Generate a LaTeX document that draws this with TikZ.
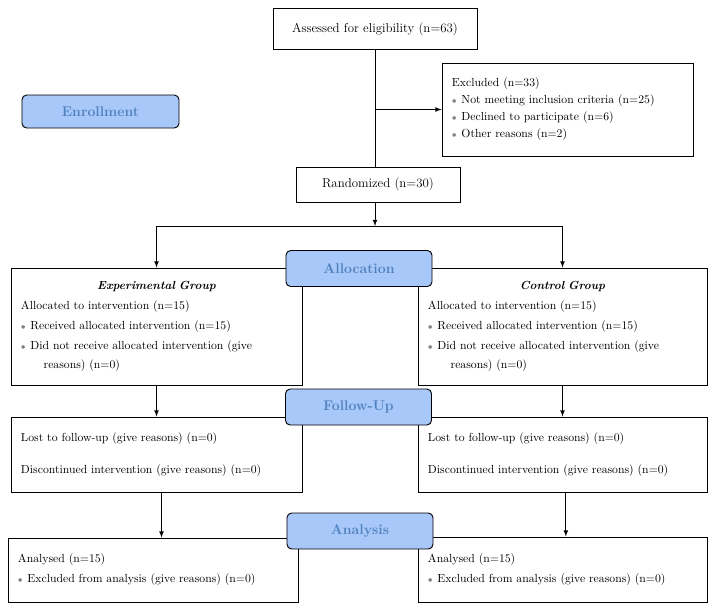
\documentclass[tikz,border=0pt]{standalone}
\usepackage{tikz}
\usetikzlibrary{calc,positioning}
\definecolor{lblfill}{RGB}{168,200,250}
\definecolor{lbltext}{RGB}{79,129,189}
\newcommand{\itemdot}{\textcolor{gray}{\scriptsize$\bullet$}\hspace{4pt}}

\begin{document}
\begin{tikzpicture}[x=0.03cm, y=-0.03cm, >=latex,
    every node/.style={font=\fontsize{10}{17}\selectfont},
    box/.style={draw, line width=0.8pt, inner xsep=0.3cm, inner ysep=0pt, align=left},
    stage/.style={draw, line width=0.8pt, rounded corners=4pt, fill=lblfill,
      text=lbltext, font=\bfseries\large, minimum height=1.08cm, minimum width=4.38cm}]
  \useasboundingbox (0,0) rectangle (717,611);

  % --- enrollment ---
  \node[box, align=center, minimum width=6.12cm, minimum height=1.23cm,
    font=\fontsize{11}{13}\selectfont] (assess) at (375,29)
    {Assessed for eligibility (n=63)};
  \node[box, text width=6.93cm, minimum height=2.79cm, font=\fontsize{10}{14.5}\selectfont]
    (excl) at (567.5,109.5)
    {Excluded (n=33)\\
     \itemdot Not meeting inclusion criteria (n=25)\\
     \itemdot Declined to participate (n=6)\\
     \itemdot Other reasons (n=2)};
  \node[box, align=center, minimum width=4.92cm, minimum height=1.05cm,
    font=\fontsize{11}{13}\selectfont] (random) at (378,184.5)
    {Randomized (n=30)};
  \node[stage, minimum width=4.71cm, minimum height=0.99cm] (enroll) at (100.5,111.5) {Enrollment};

  \coordinate (split) at (assess.south |- excl.west);
  \coordinate (fork) at (assess.south |- 0,226);
  \draw[line width=0.8pt] (assess.south) -- (assess.south |- random.north);
  \draw[->, line width=0.8pt] (split) -- (excl.west);

  % === allocation ===
  \node[box, text width=8.13cm, minimum height=3.51cm] (expgrp) at (156.5,326.5)
    {\makebox[\linewidth]{\textbf{\textit{Experimental Group}}}\\
     Allocated to intervention (n=15)\\
     \itemdot Received allocated intervention (n=15)\\
     \itemdot Did not receive allocated intervention (give\\
     \hspace{0.68cm}reasons) (n=0)};
  \node[box, text width=8.07cm, minimum height=3.51cm] (ctrlgrp) at (562.5,326.5)
    {\makebox[\linewidth]{\textbf{\textit{Control Group}}}\\
     Allocated to intervention (n=15)\\
     \itemdot Received allocated intervention (n=15)\\
     \itemdot Did not receive allocated intervention (give\\
     \hspace{0.68cm}reasons) (n=0)};

  \draw[->, line width=0.8pt] (random.south -| fork) -- (fork);
  \draw[line width=0.8pt] (expgrp.north |- fork) -- (ctrlgrp.north |- fork);
  \draw[->, line width=0.8pt] (expgrp.north |- fork) -- (expgrp.north);
  \draw[->, line width=0.8pt] (ctrlgrp.north |- fork) -- (ctrlgrp.north);

  % === follow-up ===
  \node[box, text width=8.13cm, minimum height=2.25cm] (expfu) at (156.5,454.5)
    {Lost to follow-up (give reasons) (n=0)\\[10pt]
     Discontinued intervention (give reasons) (n=0)};
  \node[box, text width=8.07cm, minimum height=2.25cm] (ctrlfu) at (562.5,454.5)
    {Lost to follow-up (give reasons) (n=0)\\[10pt]
     Discontinued intervention (give reasons) (n=0)};
  \draw[->, line width=0.8pt] (expgrp.south) -- (expfu.north);
  \draw[->, line width=0.8pt] (ctrlgrp.south) -- (ctrlfu.north);

  % === analysis ===
  \node[box, text width=8.1cm, minimum height=1.92cm] (expana) at (153,570)
    {Analysed (n=15)\\
     \itemdot Excluded from analysis (give reasons) (n=0)};
  \node[box, text width=8.07cm, minimum height=1.95cm] (ctrlana) at (562.5,569.5)
    {Analysed (n=15)\\
     \itemdot Excluded from analysis (give reasons) (n=0)};
  \draw[->, line width=0.8pt] ([xshift=0.15cm]expfu.south) -- ([xshift=0.15cm]expfu.south |- expana.north);
  \draw[->, line width=0.8pt] ([xshift=0.1cm]ctrlfu.south) -- ([xshift=0.1cm]ctrlfu.south |- ctrlana.north);

  % stage labels on top of the box lines
  \node[stage] (allocLbl) at (359,268.5) {Allocation};
  \node[stage] (fuLbl) at (358.5,407) {Follow-Up};
  \node[stage] (anaLbl) at (360,531) {Analysis};
\end{tikzpicture}
\end{document}
